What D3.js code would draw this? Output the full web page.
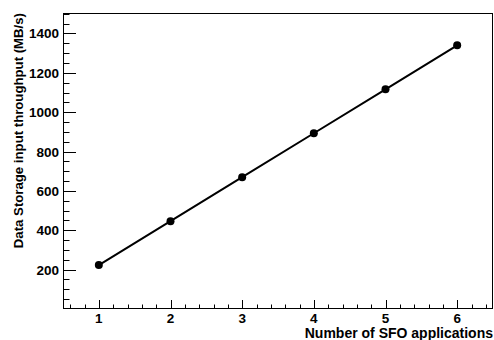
<!DOCTYPE html>
<html><head><meta charset="utf-8">
<script src="https://cdn.jsdelivr.net/npm/d3@7"></script>
<style>body{margin:0;background:#fff}svg{display:block}text{font-family:"Liberation Sans",Arial,sans-serif;font-weight:bold}</style>
</head><body><svg id="c" width="494" height="340"></svg>
<script>
const xValues = [1, 2, 3, 4, 5, 6];
const yValues = [223, 446, 670, 893, 1116, 1340];
const xTicks = [1, 2, 3, 4, 5, 6];
const yTicks = [200, 400, 600, 800, 1000, 1200, 1400];
const xTitle = "Number of SFO applications";
const yTitle = "Data Storage input throughput (MB/s)";

const svg = d3.select("#c");
const L = 63, R = 493, T = 13, B = 309;
const x = d3.scaleLinear().domain([0.5, 6.5]).range([L, R]);
const y = d3.scaleLinear().domain([0, 1504]).range([B, T]);

svg.append("rect").attr("x", L + 0.5).attr("y", T + 0.5).attr("width", R - L - 1).attr("height", B - T - 1)
  .attr("fill", "none").attr("stroke", "#000").attr("stroke-width", 1);

const xMinor = d3.range(0.6, 6.45, 0.2).filter(v => Math.abs(v - Math.round(v)) > 0.01);
const gx = svg.append("g");
gx.selectAll("line.maj").data(xTicks).join("line")
  .attr("x1", d => Math.round(x(d)) + 0.5).attr("x2", d => Math.round(x(d)) + 0.5)
  .attr("y1", B).attr("y2", B - 9).attr("stroke", "#000");
gx.selectAll("line.min").data(xMinor).join("line")
  .attr("x1", d => Math.round(x(d)) + 0.5).attr("x2", d => Math.round(x(d)) + 0.5)
  .attr("y1", B).attr("y2", B - 4.5).attr("stroke", "#000");
gx.selectAll("text").data(xTicks).join("text")
  .attr("x", d => x(d)).attr("y", 323).attr("text-anchor", "middle")
  .attr("font-size", 13.5).text(d => d);

const yMinor = d3.range(50, 1501, 50).filter(v => v % 200 !== 0);
const gy = svg.append("g");
gy.selectAll("line.maj").data(yTicks).join("line")
  .attr("y1", d => Math.round(y(d)) + 0.5).attr("y2", d => Math.round(y(d)) + 0.5)
  .attr("x1", L).attr("x2", L + 13).attr("stroke", "#000");
gy.selectAll("line.min").data(yMinor).join("line")
  .attr("y1", d => Math.round(y(d)) + 0.5).attr("y2", d => Math.round(y(d)) + 0.5)
  .attr("x1", L).attr("x2", L + 6.5).attr("stroke", "#000");
gy.selectAll("text").data(yTicks).join("text")
  .attr("x", 59).attr("y", d => y(d) + 5).attr("text-anchor", "end")
  .attr("font-size", 13.5).text(d => d);

svg.append("text").attr("x", 493).attr("y", 338).attr("text-anchor", "end")
  .attr("font-size", 14).text(xTitle);
svg.append("text").attr("transform", "translate(23,13) rotate(-90)").attr("text-anchor", "end")
  .attr("font-size", 13.2).text(yTitle);

const pts = xValues.map((v, i) => [v, yValues[i]]);
svg.append("path").datum(pts)
  .attr("d", d3.line().x(d => x(d[0])).y(d => y(d[1])))
  .attr("fill", "none").attr("stroke", "#000").attr("stroke-width", 2);
svg.selectAll("circle").data(pts).join("circle")
  .attr("cx", d => x(d[0])).attr("cy", d => y(d[1])).attr("r", 4).attr("fill", "#000");
</script></body></html>
